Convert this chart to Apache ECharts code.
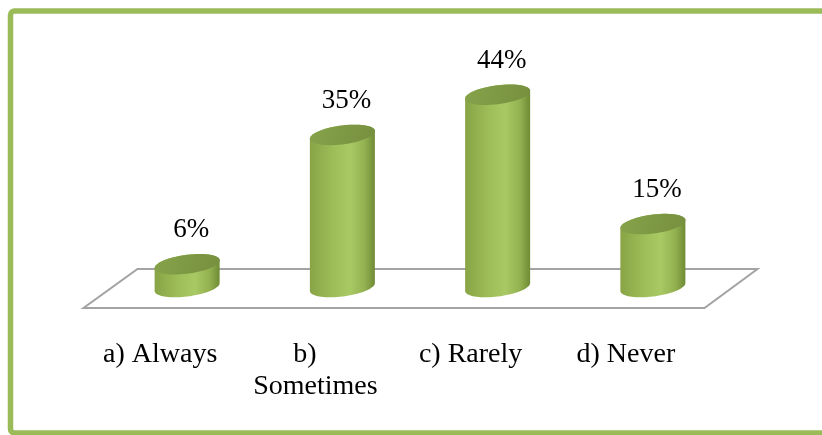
<!DOCTYPE html>
<html>
<head>
<meta charset="utf-8">
<script src="https://cdn.jsdelivr.net/npm/echarts@6/dist/echarts.min.js"></script>
<style>
  html, body { margin: 0; padding: 0; background: #fff; }
  #chart { width: 822px; height: 435px; }
</style>
</head>
<body>
<div id="chart"></div>
<script>
// data
var categories = ['a) Always', 'b)   \nSometimes', 'c) Rarely', 'd) Never'];
var values = [6, 35, 44, 15];
var valueLabels = ['6%', '35%', '44%', '15%'];

var chart = echarts.init(document.getElementById('chart'));

var RX = 32.5, RY = 9.5, SKEW = 0.12;
var FONT = '"Liberation Serif", "Times New Roman", serif';

// points of a skewed ellipse arc (from angle a0 to a1)
function arc(cx, cy, a0, a1, n) {
  var pts = [];
  for (var i = 0; i <= n; i++) {
    var t = a0 + (a1 - a0) * i / n;
    var dx = RX * Math.cos(t);
    pts.push([cx + dx, cy + RY * Math.sin(t) - SKEW * dx]);
  }
  return pts;
}

function renderCylinder(params, api) {
  var idx = api.value(0);
  var top = api.coord([idx, api.value(1)]);
  var base = api.coord([idx, 0]);
  var cx = top[0];
  var yT = top[1];
  var yB = base[1] - 4;

  // body: bottom front arc (left -> right), then top back arc (right -> left)
  var body = arc(cx, yB, Math.PI, 0, 40).concat(arc(cx, yT, 0, -Math.PI, 40));
  var ell = arc(cx, yT, 0, 2 * Math.PI, 60);

  return {
    type: 'group',
    children: [
      {
        type: 'polygon',
        shape: { points: body },
        style: {
          fill: new echarts.graphic.LinearGradient(0, 0, 1, 0, [
            { offset: 0, color: '#88a446' },
            { offset: 0.35, color: '#9dbd58' },
            { offset: 0.62, color: '#a9c965' },
            { offset: 0.85, color: '#92b04f' },
            { offset: 1, color: '#6f8b35' }
          ])
        }
      },
      {
        type: 'polygon',
        shape: { points: ell },
        style: {
          fill: new echarts.graphic.LinearGradient(0, 0, 1, 1, [
            { offset: 0, color: '#86a34a' },
            { offset: 1, color: '#768f3f' }
          ])
        }
      },
      {
        type: 'text',
        style: {
          text: valueLabels[idx],
          x: cx + 4,
          y: yT - 34,
          align: 'center',
          verticalAlign: 'middle',
          fill: '#000',
          font: '27px ' + FONT
        }
      }
    ]
  };
}

// floor parallelogram drawn from the grid rect
function renderFloor(params, api) {
  var cs = params.coordSys;
  var yBack = cs.y + cs.height - 22;
  var yFront = cs.y + cs.height + 17;
  return {
    type: 'polygon',
    shape: {
      points: [
        [cs.x + 28, yBack],
        [cs.x + cs.width + 27, yBack],
        [cs.x + cs.width - 26, yFront],
        [cs.x - 26, yFront]
      ]
    },
    style: { fill: 'none', stroke: '#a3a3a3', lineWidth: 2 }
  };
}

var option = {
  animation: false,
  backgroundColor: '#fff',
  graphic: [{
    type: 'rect',
    shape: { x: 10.5, y: 11, width: 830, height: 422, r: 4 },
    style: { fill: 'none', stroke: '#9bbb59', lineWidth: 5.5 },
    z: 100
  }],
  grid: { left: 109.5, right: 91.5, top: 68, bottom: 144 },
  xAxis: {
    type: 'category',
    data: categories,
    axisLine: { show: false },
    axisTick: { show: false },
    axisLabel: {
      interval: 0,
      showMinLabel: true,
      showMaxLabel: true,
      hideOverlap: false,
      margin: 48,
      fontFamily: FONT,
      fontSize: 28,
      lineHeight: 32,
      color: '#000',
      padding: [0, 54, 0, 0]
    }
  },
  yAxis: {
    type: 'value',
    min: 0,
    max: 50,
    show: false,
    splitLine: { show: false }
  },
  series: [
    {
      type: 'custom',
      renderItem: renderFloor,
      data: [[0, 0]],
      silent: true,
      z: 1
    },
    {
      type: 'custom',
      renderItem: renderCylinder,
      data: values.map(function (v, i) { return [i, v]; }),
      encode: { x: 0, y: 1 },
      z: 2
    }
  ]
};

chart.setOption(option);
</script>
</body>
</html>
